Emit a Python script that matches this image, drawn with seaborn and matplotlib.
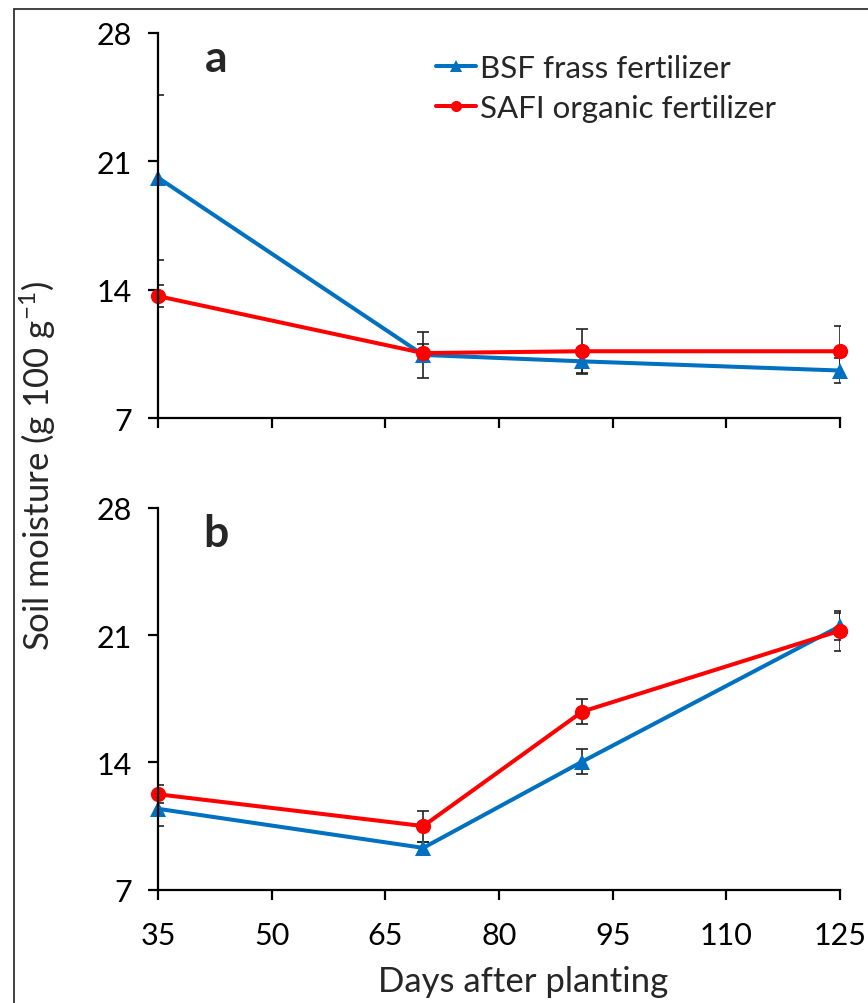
import matplotlib
matplotlib.use("Agg")
import matplotlib.pyplot as plt
import seaborn as sns
import pandas as pd
from matplotlib.patches import Rectangle

# Sampling days and soil moisture means / standard errors
days = [35, 70, 91, 125]
series_names = ["BSF frass fertilizer", "SAFI organic fertilizer"]

bsf_a = [20.1, 10.45, 10.1, 9.6]
bsf_a_err = [4.5, 1.25, 0.7, 0.7]
safi_a = [13.65, 10.55, 10.65, 10.65]
safi_a_err = [0.6, 0.5, 1.2, 1.35]

bsf_b = [11.45, 9.3, 14.05, 21.5]
bsf_b_err = [0.95, 0.3, 0.7, 0.75]
safi_b = [12.25, 10.5, 16.8, 21.25]
safi_b_err = [0.5, 0.85, 0.7, 1.1]

x_ticks = [35, 50, 65, 80, 95, 110, 125]
y_ticks = [7, 14, 21, 28]
panel_labels = ["a", "b"]

sns.set_theme(style="white")
FONT = "Lato"
plt.rcParams["font.family"] = [FONT, "DejaVu Sans"]
plt.rcParams["mathtext.fontset"] = "custom"
plt.rcParams["mathtext.rm"] = FONT
plt.rcParams["mathtext.it"] = FONT + ":italic"

colors = {series_names[0]: "#0070C0", series_names[1]: "#FF0000"}
markers = {series_names[0]: "^", series_names[1]: "o"}

fig = plt.figure(figsize=(8.68, 10.04), dpi=100)
W, H = 868, 1004


def px_axes(left, top, right, bottom):
    return fig.add_axes([left / W, 1 - bottom / H, (right - left) / W, (bottom - top) / H])


ax_a = px_axes(158, 33.5, 840, 419.3)
ax_b = px_axes(158, 509, 840, 890.7)

panels = [
    (ax_a, bsf_a, bsf_a_err, safi_a, safi_a_err),
    (ax_b, bsf_b, bsf_b_err, safi_b, safi_b_err),
]

for i, (ax, bv, be, sv, se) in enumerate(panels):
    df = pd.DataFrame({
        "day": days * 2,
        "moisture": bv + sv,
        "err": be + se,
        "series": [series_names[0]] * len(days) + [series_names[1]] * len(days),
    })
    for name in series_names:
        sub = df[df["series"] == name]
        ax.errorbar(sub["day"], sub["moisture"], yerr=sub["err"], fmt="none",
                    ecolor="#222222", elinewidth=1.2, capsize=4, capthick=1.2,
                    zorder=2)
    sns.lineplot(data=df, x="day", y="moisture", hue="series", style="series",
                 hue_order=series_names, style_order=series_names,
                 palette=colors, markers=markers, dashes=False,
                 linewidth=2.9, markersize=11, markeredgewidth=0,
                 legend=(i == 0), ax=ax, zorder=3, clip_on=False)

    ax.set_xlim(35, 125)
    ax.set_ylim(7, 28)
    ax.set_xticks(x_ticks)
    ax.set_yticks(y_ticks)
    ax.set_xlabel("")
    ax.set_ylabel("")
    for side in ["top", "right"]:
        ax.spines[side].set_visible(False)
    for side in ["left", "bottom"]:
        ax.spines[side].set_linewidth(1.6)
        ax.spines[side].set_color("black")
        ax.spines[side].set_zorder(4)
    ax.tick_params(axis="both", direction="out", length=7.5, width=1.6,
                   color="black", labelsize=22, labelcolor="black",
                   left=True, bottom=True)
    ax.tick_params(axis="y", pad=11)
    ax.tick_params(axis="x", pad=15)
    ax.patch.set_alpha(0)
    ax.text(0.085, 0.935, panel_labels[i], transform=ax.transAxes,
            fontsize=32, fontweight="bold", ha="center", va="center")

ax_a.tick_params(axis="x", labelbottom=False)

leg = ax_a.legend(loc="upper left", bbox_to_anchor=(0.375, 1.0), frameon=False,
                  fontsize=22.5, handlelength=1.3, handletextpad=0.12,
                  labelspacing=0.38, borderaxespad=0.3)
for h in leg.legend_handles:
    h.set_markersize(8)
    h.set_linewidth(2.9)

fig.text(38 / W, 1 - 466 / H, "Soil moisture (g 100 g$^{-1}$)", rotation=90,
         ha="center", va="center", fontsize=25)
fig.text(523 / W, 1 - 982 / H, "Days after planting", ha="center",
         va="center", fontsize=25)

# Frame around the figure
fig.patches.append(Rectangle((14 / W, -0.05), 1.2, 1 - 10 / H + 0.05,
                             transform=fig.transFigure, fill=False,
                             edgecolor="#333333", linewidth=1.3))

fig.savefig("out.png", dpi=100)
